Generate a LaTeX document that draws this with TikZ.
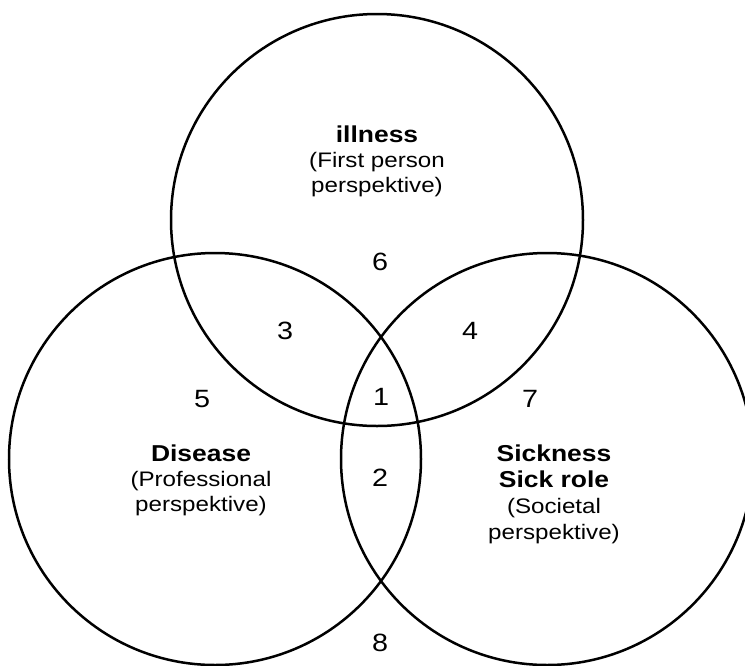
\documentclass[tikz,border=0pt]{standalone}
\usepackage{fontspec}
\setmainfont[FakeStretch=1.15]{Liberation Sans}
\begin{document}
\begin{tikzpicture}[x=1pt,y=-1pt,
  ring/.style={circle, draw, line width=2.5pt, minimum size=412pt, inner sep=0pt},
  lbl/.style={align=center, anchor=base, inner sep=0pt, font=\fontsize{21}{25}\selectfont},
  num/.style={anchor=base, inner sep=0pt, font=\fontsize{25}{25}\selectfont}]
\useasboundingbox (0,0) rectangle (745,665);
\clip (0,0) rectangle (745,665);
\node[ring] (ill) at (377,220) {};
\node[ring] (dis) at (215,459) {};
\node[ring] (sic) at (547,459) {};
\node[lbl] (tIll) at (377,192) {{\fontsize{23}{25}\selectfont\bfseries illness}\\(First person\\perspektive)};
\node[lbl] (tDis) at (201,511) {{\fontsize{23}{25}\selectfont\bfseries Disease}\\(Professional\\perspektive)};
\node[lbl, font=\fontsize{21}{26}\selectfont] (tSic) at (554,539) {{\fontsize{23}{26}\selectfont\bfseries Sickness}\\{\fontsize{23}{26}\selectfont\bfseries Sick role}\\(Societal\\perspektive)};
\node[num] (n1) at (381,405) {1};
\node[num] (n2) at (380,486) {2};
\node[num] (n3) at (285,339) {3};
\node[num] (n4) at (470,339) {4};
\node[num] (n5) at (202,407) {5};
\node[num] (n6) at (380,270) {6};
\node[num] (n7) at (530,407) {7};
\node[num] (n8) at (380,651) {8};
\end{tikzpicture}
\end{document}
